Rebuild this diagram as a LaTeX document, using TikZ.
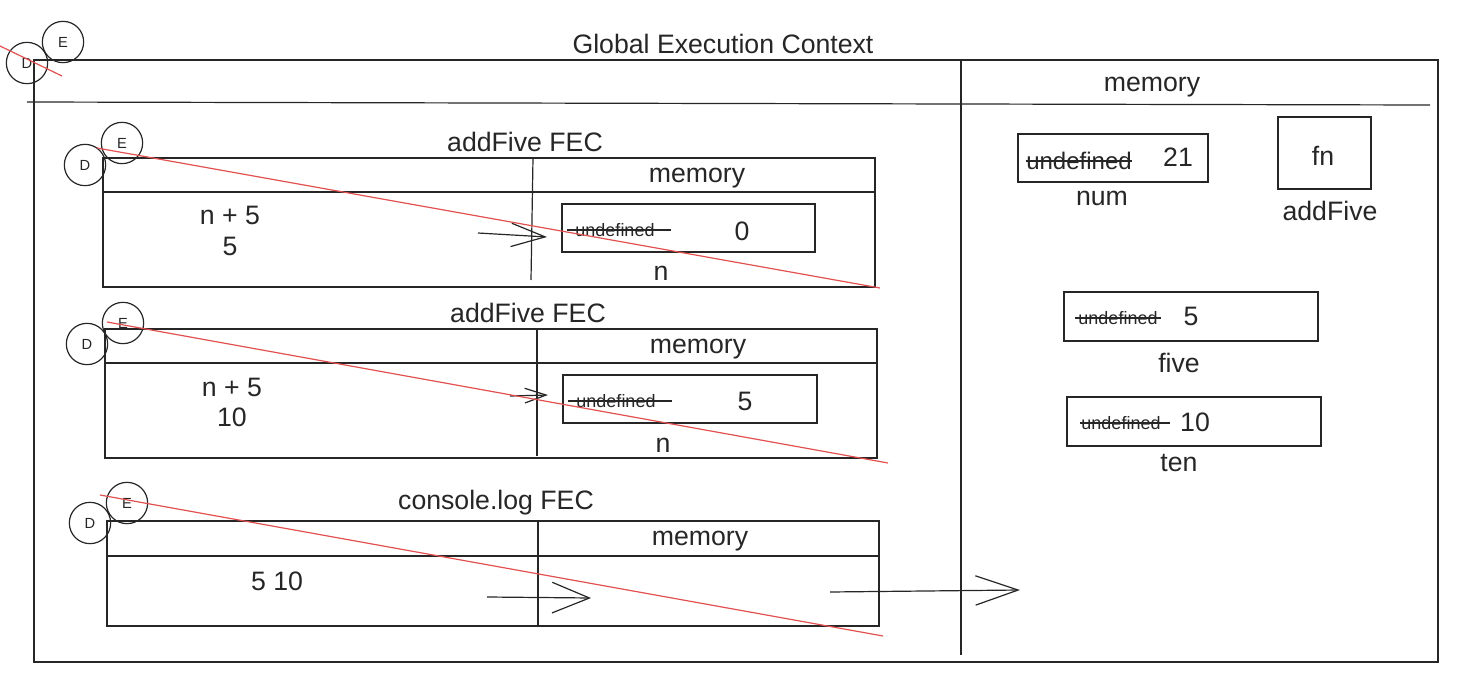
\documentclass[tikz,border=0pt]{standalone}
\usepackage{fontspec}
\setmainfont{Liberation Sans}
\usetikzlibrary{arrows.meta}
\definecolor{ink}{RGB}{38,38,38}
\definecolor{crossred}{RGB}{226,80,80}

\begin{document}
\begin{tikzpicture}[x=0.75pt,y=0.75pt,yscale=-1,line width=0.9pt,draw=ink,
    lbl/.style={inner sep=0pt, text=ink, font=\fontsize{20}{24}\selectfont},
    tiny/.style={inner sep=0pt, text=ink, font=\fontsize{13.5}{16}\selectfont},
    tagc/.style={circle, draw=ink, minimum size=31pt, inner sep=0pt, text=ink, font=\fontsize{11}{12}\selectfont},
    cross/.style={draw=crossred, line width=0.9pt},
    barb/.style args={#1/#2}{-{Straight Barb[length=#1pt,width=#2pt]}}]
        \path[use as bounding box] (0,0) rectangle (1465,685);

        %Shape: Rectangle [global context]
        \draw (34,60) rectangle (1438,662);
        %Straight Lines
        \draw (27,102) -- (1430,105);
        \draw (961,60) -- (961,655);
        % Text Node
        \node[lbl] (gec) at (723,44) {Global Execution Context};
        % Text Node
        \node[lbl] (gmem) at (1152,87) {memory};
        \node[tagc] (gD) at (27,63) {D};
        \node[tagc] (gE) at (63,42) {E};
        \draw[cross] (0,46) -- (62,76);

        %Shape: Rectangle [addFive FEC 1]
        \draw (103,158) rectangle (875,287);
        \draw (103,192) -- (875,192);
        \draw (533,158) -- (531,280);
        \node[lbl] (fa) at (525,142) {addFive FEC};
        \node[lbl] (fam) at (697,178) {memory};
        \node[lbl] (fa1) at (230,215) {n + 5};
        \node[lbl] (fa2) at (230,246) {5};
        \draw (562,204) rectangle (815,252);
        \node[tiny] (fau) at (615,230) {undefined};
        \draw ([xshift=-6pt]fau.west) -- ([xshift=12pt]fau.east);
        \node[lbl] (fav) at (742,231) {0};
        \node[lbl] (fan) at (661,273) {n};
        \coordinate (fas) at (478,233);
        \coordinate (fae) at (547,237);
        \draw[barb=25.5/17.5] (fas) -- (fae);
        \node[tagc] (faD) at (85,165) {D};
        \node[tagc] (faE) at (122,143) {E};
        \draw[cross] (97,148) -- (880,288);

        %Shape: Rectangle [addFive FEC 2]
        \draw (105,329) rectangle (877,458);
        \draw (105,363) -- (877,363);
        \draw (537,329) -- (537,456);
        \node[lbl] (fb) at (528,313) {addFive FEC};
        \node[lbl] (fbm) at (698,349) {memory};
        \node[lbl] (fb1) at (232,387) {n + 5};
        \node[lbl] (fb2) at (232,417) {10};
        \draw (563,375) rectangle (817,423);
        \node[tiny] (fbu) at (616,401) {undefined};
        \draw ([xshift=-6pt]fbu.west) -- ([xshift=12pt]fbu.east);
        \node[lbl] (fbv) at (745,401) {5};
        \node[lbl] (fbn) at (663,445) {n};
        \coordinate (fbs) at (510,396);
        \coordinate (fbe) at (548,395);
        \draw[barb=16/11] (fbs) -- (fbe);
        \node[tagc] (fbD) at (87,344) {D};
        \node[tagc] (fbE) at (123,323) {E};
        \draw[cross] (107,322) -- (888,463);

        %Shape: Rectangle [console.log FEC]
        \draw (107,521) rectangle (879,626);
        \draw (107,556) -- (879,556);
        \draw (538,521) -- (538,626);
        \node[lbl] (fc) at (496,503) {console.log FEC};
        \node[lbl] (fcm) at (700,541) {memory};
        \node[lbl] (fc1) at (277,581) {5 10};
        \coordinate (fcs) at (487,597);
        \coordinate (fce) at (591,598);
        \draw[barb=28/23] (fcs) -- (fce);
        \node[tagc] (fcD) at (90,523) {D};
        \node[tagc] (fcE) at (127,503) {E};
        \draw[cross] (100,495) -- (883,636);

        %Straight Lines [to global memory]
        \coordinate (outs) at (830,592);
        \coordinate (oute) at (1020,590);
        \draw[barb=32/22] (outs) -- (oute);

        %Shape: Rectangle [num]
        \draw (1018,134) rectangle (1208,182);
        \node[inner sep=0pt, text=ink, font=\fontsize{18}{20}\selectfont] (numu) at (1079,161) {undefined};
        \draw (numu.west) -- (numu.east);
        \node[lbl] (numv) at (1178,157) {21};
        \node[lbl] (numl) at (1102,198) {num};
        %Shape: Rectangle [addFive]
        \draw (1278,117) rectangle (1371,189);
        \node[lbl] (fnv) at (1323,156) {fn};
        \node[lbl] (fnl) at (1330,211) {addFive};
        %Shape: Rectangle [five]
        \draw (1064,292) rectangle (1318,341);
        \node[tiny] (fiveu) at (1118,318) {undefined};
        \draw ([xshift=-2pt]fiveu.west) -- ([xshift=2pt]fiveu.east);
        \node[lbl] (fivev) at (1191,316) {5};
        \node[lbl] (fivel) at (1179,363) {five};
        %Shape: Rectangle [ten]
        \draw (1067,397) rectangle (1321,446);
        \node[tiny] (tenu) at (1121,423) {undefined};
        \draw ([xshift=-1pt]tenu.west) -- ([xshift=7pt]tenu.east);
        \node[lbl] (tenv) at (1195,422) {10};
        \node[lbl] (tenl) at (1179,463) {ten};

\end{tikzpicture}
\end{document}
